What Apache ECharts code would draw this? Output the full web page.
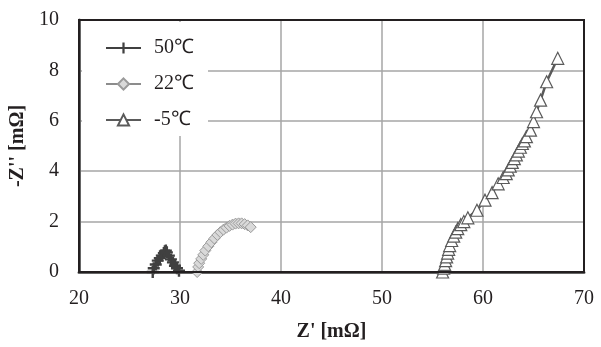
<!DOCTYPE html>
<html><head><meta charset="utf-8">
<script src="https://cdn.jsdelivr.net/npm/echarts@6/dist/echarts.min.js"></script>
<style>html,body{margin:0;padding:0;background:#fff;}#c{width:601px;height:347px;}</style>
</head><body><div id="c"></div>
<script>
const seriesNames = ['50℃', '22℃', '-5℃'];
const xTicks = [20, 30, 40, 50, 60, 70];
const yTicks = [0, 2, 4, 6, 8, 10];

const x50 = [27.3, 27.4, 27.6, 27.8, 28.0, 28.2, 28.4, 28.5, 28.6, 28.7, 28.9, 29.1, 29.3, 29.5, 29.7, 29.9];
const y50 = [0.0, 0.15, 0.3, 0.45, 0.55, 0.65, 0.75, 0.82, 0.85, 0.78, 0.65, 0.5, 0.38, 0.25, 0.15, 0.05];

const x22 = [31.7, 31.8, 31.9, 32.1, 32.3, 32.5, 32.8, 33.1, 33.4, 33.7, 34.0, 34.3, 34.6, 34.9, 35.2, 35.5, 35.8, 36.1, 36.4, 36.7, 37.0];
const y22 = [0.0, 0.2, 0.35, 0.52, 0.68, 0.85, 1.02, 1.18, 1.33, 1.47, 1.58, 1.68, 1.76, 1.83, 1.88, 1.92, 1.93, 1.93, 1.9, 1.85, 1.78];

const xm5 = [56.0, 56.1, 56.2, 56.3, 56.4, 56.5, 56.6, 56.7, 56.9, 57.1, 57.3, 57.5, 57.8, 58.1, 58.5, 59.4, 60.2, 60.9, 61.5, 62.0, 62.3, 62.5, 62.7, 62.9, 63.1, 63.3, 63.5, 63.7, 63.9, 64.1, 64.3, 64.7, 65.0, 65.3, 65.7, 66.3, 67.4];
const ym5 = [0.0, 0.15, 0.3, 0.45, 0.6, 0.75, 0.9, 1.05, 1.25, 1.42, 1.58, 1.72, 1.88, 2.0, 2.15, 2.45, 2.85, 3.15, 3.5, 3.75, 3.9, 4.05, 4.2, 4.35, 4.5, 4.65, 4.8, 4.95, 5.1, 5.2, 5.37, 5.63, 5.97, 6.36, 6.82, 7.55, 8.48];

const pairs = (xs, ys) => xs.map((x, i) => [x, ys[i]]);
const FONT = 'Liberation Serif';
const plus = 'path://M4,0 L6,0 L6,4 L10,4 L10,6 L6,6 L6,10 L4,10 L4,6 L0,6 L0,4 L4,4 Z';

const chart = echarts.init(document.getElementById('c'), null, {renderer: 'canvas'});
chart.setOption({
  animation: false,
  backgroundColor: '#fff',
  grid: {left: 79, right: 17, top: 20, bottom: 75, show: true, borderColor: '#231f20', borderWidth: 2, backgroundColor: 'transparent', z: 10},
  xAxis: {
    type: 'value', min: xTicks[0], max: xTicks[xTicks.length - 1], interval: 10,
    name: "Z' [mΩ]", nameLocation: 'middle', nameGap: 50,
    nameTextStyle: {fontFamily: FONT, fontSize: 20, fontWeight: 'bold', color: '#231f20'},
    axisLine: {show: true, onZero: false, lineStyle: {color: '#666', width: 3}},
    axisTick: {show: false},
    axisLabel: {fontFamily: FONT, fontSize: 20, color: '#231f20', margin: 17},
    splitLine: {show: true, lineStyle: {color: '#a6a6a6', width: 1.5}}
  },
  yAxis: {
    type: 'value', min: yTicks[0], max: yTicks[yTicks.length - 1], interval: 2,
    name: "-Z'' [mΩ]", nameLocation: 'middle', nameGap: 50, nameRotate: 90,
    nameTextStyle: {fontFamily: FONT, fontSize: 20, fontWeight: 'bold', color: '#231f20'},
    axisLine: {show: true, onZero: false, lineStyle: {color: '#666', width: 3}},
    axisTick: {show: false},
    axisLabel: {fontFamily: FONT, fontSize: 20, color: '#231f20', margin: 20},
    splitLine: {show: true, lineStyle: {color: '#a6a6a6', width: 1.5}}
  },
  legend: {
    orient: 'vertical', left: 82, top: 22, padding: [16, 14, 6, 23],
    backgroundColor: '#fff', itemWidth: 35, itemHeight: 14, itemGap: 16,
    textStyle: {fontFamily: FONT, fontSize: 20, color: '#231f20', padding: [0, 0, 0, 8]},
    data: seriesNames
  },
  series: [
    {name: seriesNames[0], type: 'line', data: pairs(x50, y50), symbol: plus, symbolSize: 12,
     lineStyle: {color: '#404040', width: 2.5}, itemStyle: {color: '#404040', borderWidth: 0}},
    {name: seriesNames[1], type: 'line', data: pairs(x22, y22), symbol: 'diamond', symbolSize: 11,
     lineStyle: {color: '#8c8c8c', width: 2.5}, itemStyle: {color: '#d9d9d9', borderColor: '#9a9a9a', borderWidth: 1}},
    {name: seriesNames[2], type: 'line', data: pairs(xm5, ym5), symbol: 'triangle', symbolSize: 12,
     lineStyle: {color: '#5a5a5a', width: 2.5}, itemStyle: {color: '#fff', borderColor: '#5a5a5a', borderWidth: 1.2}}
  ]
});
</script></body></html>
